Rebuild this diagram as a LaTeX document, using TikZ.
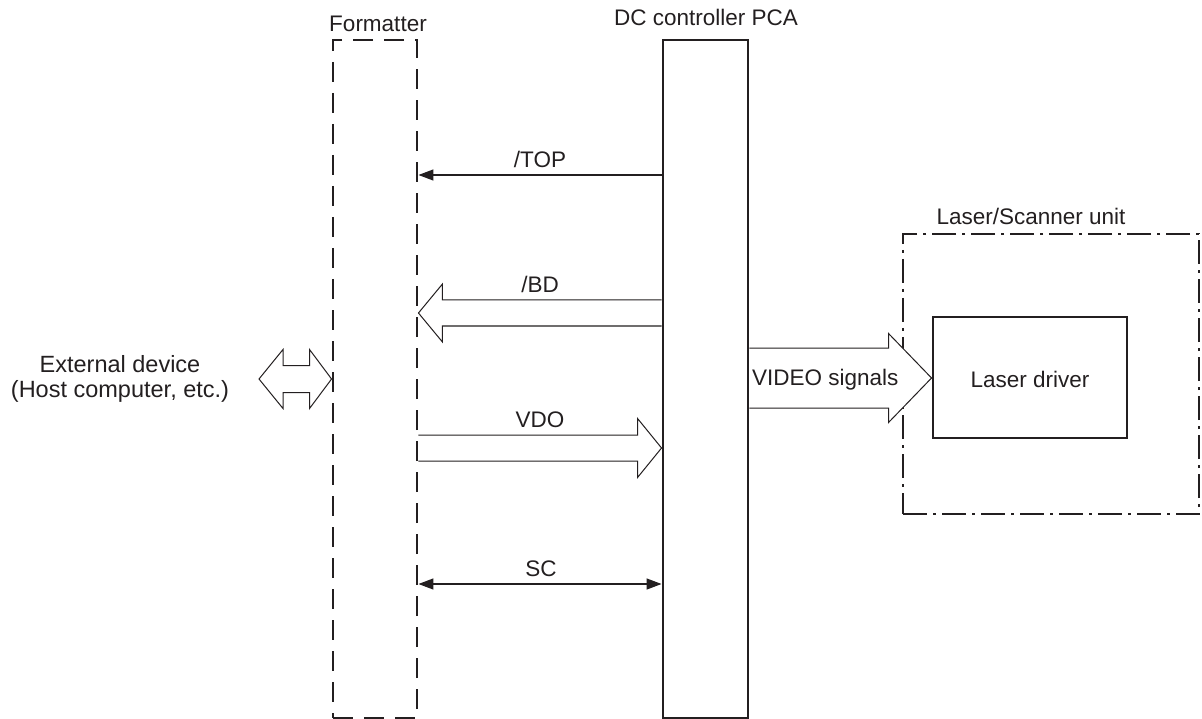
\documentclass[tikz,border=0pt]{standalone}
\usepackage{fontspec}
\setmainfont{Liberation Sans}
\usetikzlibrary{arrows.meta,calc}
\definecolor{ink}{RGB}{35,31,32}
\newcommand\hollowarrow[5]{%
  \draw[hollowline] ($(#1)+(0,#3)$) -- ($(#2)!#5!(#1)+(0,#3)$) -- ($(#2)!#5!(#1)+(0,#4)$)
    -- (#2) -- ($(#2)!#5!(#1)+(0,-#4)$) -- ($(#2)!#5!(#1)+(0,-#3)$) -- ($(#1)+(0,-#3)$);}
\begin{document}
\begin{tikzpicture}[x=1pt,y=-1pt,
  every node/.style={font=\fontsize{22.5}{25}\selectfont, text=ink},
  lbl/.style={anchor=base, inner sep=0pt},
  boxline/.style={draw=ink, line width=2.9pt, inner sep=0pt},
  fmtbox/.style={boxline, dash pattern=on 20pt off 11pt},
  unitbox/.style={boxline, line width=2.5pt, dash pattern=on 24pt off 6pt on 3pt off 6pt},
  thinarrow/.style={draw=ink, line width=1.3pt},
  hollowline/.style={draw=ink, line width=1pt, fill=white, line join=miter}]
\useasboundingbox (0,0) rectangle (1202,719);
% blocks
\node[fmtbox, minimum width=84pt, minimum height=678pt] (fmt) at (375,379) {};
\node[boxline, minimum width=85pt, minimum height=678pt] (dc) at (705.5,379) {};
\node[unitbox, minimum width=296pt, minimum height=280pt] (lsu) at (1051,374) {};
\node[boxline, minimum width=194pt, minimum height=121pt] (ld) at (1030,377.5) {};
% labels
\node[lbl] (fmtlbl) at (378,32) {Formatter};
\node[lbl] (dclbl) at (706,26) {DC controller PCA};
\node[lbl] (lsulbl) at (1031,225) {Laser/Scanner unit};
\node[lbl] (ldlbl) at (1030,387) {Laser driver};
\node[lbl, align=center, font=\fontsize{23.5}{25}\selectfont] (ext) at (120,397) {External device\\(Host computer, etc.)};
% row coordinates
\coordinate (rTOP) at (0,175);
\coordinate (rBD) at (0,313);
\coordinate (rVDO) at (0,448);
\coordinate (rSC) at (0,584);
\coordinate (rVID) at (0,378);
\coordinate (rEXT) at (0,379);
% thin arrows
\draw[thinarrow, -{Triangle[length=15pt,width=11pt]}] (dc.west |- rTOP) -- (fmt.east |- rTOP);
\draw[thinarrow, {Triangle[length=15pt,width=11pt]}-{Triangle[length=15pt,width=11pt]}] (fmt.east |- rSC) -- (dc.west |- rSC);
% hollow arrows
\coordinate (bdA) at (dc.west |- rBD);
\coordinate (bdB) at (fmt.east |- rBD);
\hollowarrow{bdA}{bdB}{13}{29}{24pt}
\coordinate (vdoA) at (fmt.east |- rVDO);
\coordinate (vdoB) at (dc.west |- rVDO);
\hollowarrow{vdoA}{vdoB}{13}{29.5}{24pt}
\coordinate (vidA) at (dc.east |- rVID);
\coordinate (vidB) at (ld.west |- rVID);
\hollowarrow{vidA}{vidB}{30}{44.5}{43pt}
\coordinate (extL) at (259,379);
\coordinate (extR) at (fmt.west |- rEXT);
\draw[hollowline] (extL) -- ($(extL)+(24,-29.5)$) -- ($(extL)+(24,-13.5)$) -- ($(extR)+(-22,-13.5)$)
  -- ($(extR)+(-22,-29.5)$) -- (extR) -- ($(extR)+(-22,29.5)$) -- ($(extR)+(-22,13.5)$)
  -- ($(extL)+(24,13.5)$) -- ($(extL)+(24,29.5)$) -- cycle;
% signal labels
\node[lbl] (toplbl) at (540,168) {/TOP};
\node[lbl] (bdlbl) at (540,293) {/BD};
\node[lbl] (vdolbl) at (540,427) {VDO};
\node[lbl] (sclbl) at (541,576) {SC};
\node[lbl, anchor=base west] (vidlbl) at (752,385) {VIDEO signals};
\end{tikzpicture}
\end{document}
